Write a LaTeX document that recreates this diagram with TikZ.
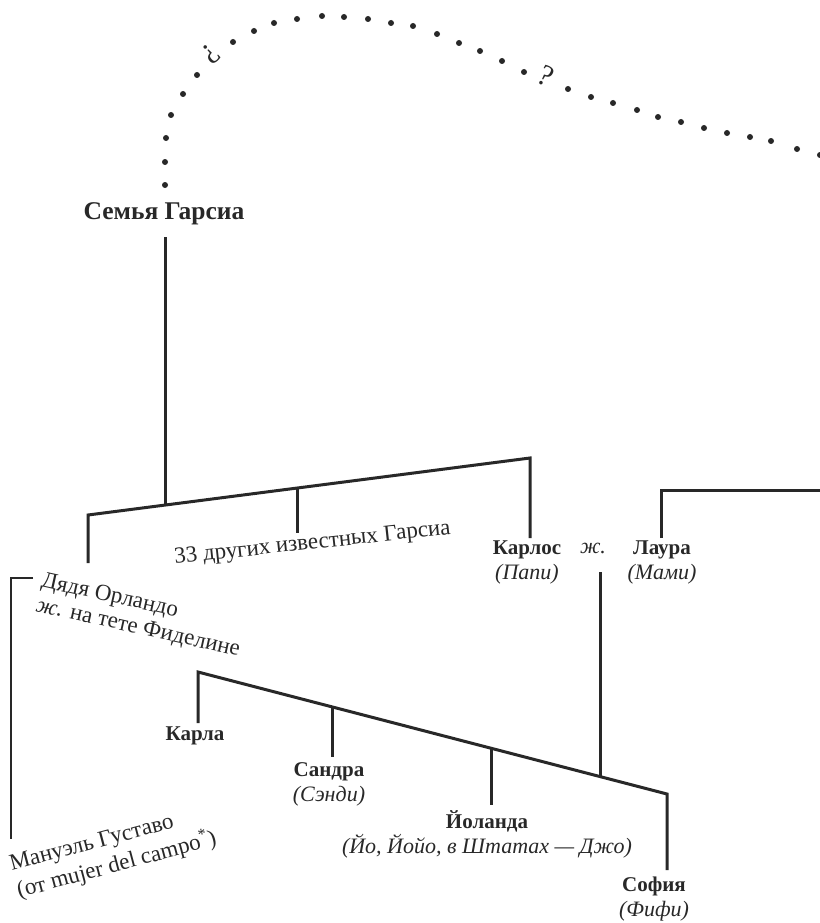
\documentclass[tikz,border=0pt]{standalone}
\usepackage{fontspec}
\setmainfont{Liberation Serif}
\definecolor{ink}{RGB}{40,40,40}
\begin{document}
\begin{tikzpicture}[x=1pt,y=-1pt,
  treeline/.style={draw=ink,line width=3pt},
  bracketline/.style={draw=ink,line width=1.6pt},
  txt/.style={text=ink,inner sep=0pt,font=\fontsize{23}{25}\selectfont},
  nm/.style={text=ink,inner sep=0pt,align=center,font=\fontsize{22}{25}\selectfont},
  bnm/.style={text=ink,inner sep=0pt,font=\fontsize{21}{25}\selectfont\bfseries}]
\useasboundingbox (0,0) rectangle (819,923);
\fill[white] (0,0) rectangle (819,923);
% dotted arc
\foreach \x/\y in {165/185,165/162,166/138,171/115,183/94,197/75,233/42,254/31,274/23,297/19,322/16,344/17,368/19,391/23,413/26,437/34,459/43,480/51,502/61,524/72,568/89,591/97,613/103,637/110,658/117,681/122,704/128,727/133,750/137,771/141,797/149,820/155}
  \fill[ink] (\x,\y) circle[radius=3pt];
\node[txt,font=\fontsize{30}{32}\selectfont,rotate=42] (q1) at (211,54) {¿};
\node[txt,font=\fontsize{30}{32}\selectfont,rotate=-28] (q2) at (546,76) {?};
% title
\node[txt,font=\fontsize{25.5}{30}\selectfont\bfseries] (fam) at (164,214) {Семья Гарсиа};
% generation 1
\coordinate (famB) at (165,237);
\coordinate (famJ) at (165,505);
\coordinate (sibL) at (88,515);
\coordinate (sibM) at (297,488);
\coordinate (sibR) at (530,458);
\coordinate (orlT) at (88,563);
\coordinate (othT) at (297,533);
\coordinate (carT) at (530,538);
\draw[treeline] (famB) -- (famJ);
\draw[treeline] (orlT) -- (sibL) -- (sibR) -- (carT);
\draw[treeline] (sibM) -- (othT);
\node[txt,rotate=6.2,anchor=base west] (oth) at (175,564) {33 других известных Гарсиа};
\node[nm] (carlos) at (527,562) {\textbf{\fontsize{21}{25}\selectfont Карлос}\\\textit{(Папи)}};
\node[nm] (zh) at (593,548) {\textit{ж.}};
\node[nm] (laura) at (662,562) {\textbf{\fontsize{21}{25}\selectfont Лаура}\\\textit{(Мами)}};
\coordinate (lauT) at (661,538);
\coordinate (lauC) at (661,490);
\coordinate (lauR) at (830,490);
\draw[treeline] (lauT) -- (lauC) -- (lauR);
% Orlando
\node[txt,rotate=-12.5,anchor=base west,align=left] (orl) at (35,611) {Дядя Орландо\\\textit{ж.} на тете Фиделине};
\coordinate (brT) at (33,578);
\coordinate (brC) at (11,578);
\coordinate (brB) at (11,839);
\draw[bracketline] (brT) -- (brC) -- (brB);
\node[txt,font=\fontsize{23}{28}\selectfont,rotate=15,anchor=base west,align=left] (man) at (19,898) {Мануэль Густаво\\(от mujer del campo\textsuperscript{*})};
% children
\coordinate (mar) at (600,572);
\coordinate (marJ) at (600,776);
\draw[treeline] (mar) -- (marJ);
\coordinate (kL) at (198,672);
\coordinate (kR) at (667,794);
\coordinate (karT) at (198,723);
\coordinate (sofT) at (667,870);
\draw[treeline] (karT) -- (kL) -- (kR) -- (sofT);
\coordinate (sanJ) at (332,707);
\coordinate (sanT) at (332,757);
\coordinate (yolJ) at (491,748);
\coordinate (yolT) at (491,805);
\draw[treeline] (sanJ) -- (sanT);
\draw[treeline] (yolJ) -- (yolT);
\node[bnm] (karla) at (195,736) {Карла};
\node[nm] (sandra) at (329,784) {\textbf{\fontsize{21}{25}\selectfont Сандра}\\\textit{(Сэнди)}};
\node[nm] (yol) at (487,834) {\textbf{\fontsize{21}{25}\selectfont Йоланда}\\\textit{(Йо, Йойо, в Штатах — Джо)}};
\node[nm] (sofia) at (654,899) {\textbf{\fontsize{21}{25}\selectfont София}\\\textit{(Фифи)}};
\end{tikzpicture}
\end{document}
